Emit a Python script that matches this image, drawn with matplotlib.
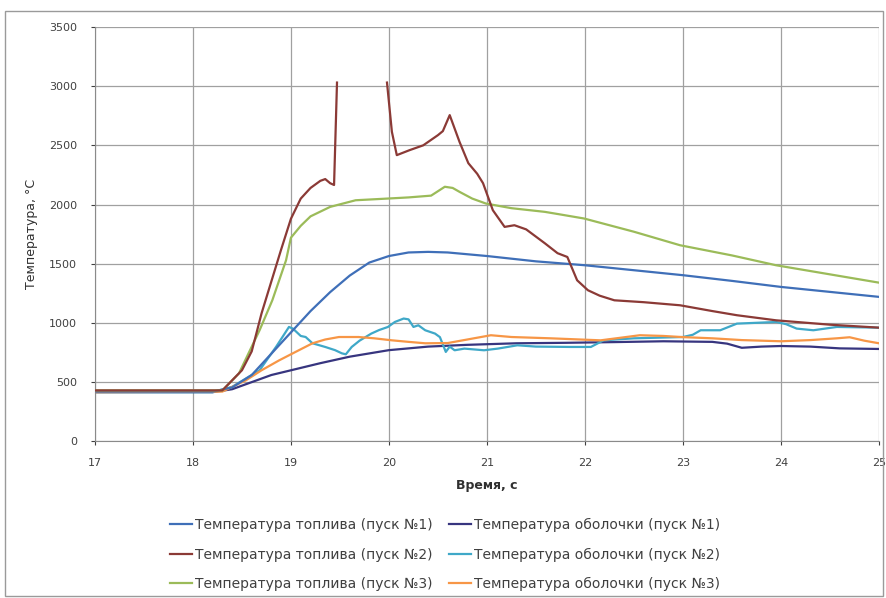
import numpy as np
import matplotlib
matplotlib.use('Agg')
from matplotlib import pyplot as plt
from matplotlib.patches import Rectangle

nan = np.nan

# температура топлива, пуск 1
t_fuel1 = [17, 18.2, 18.4, 18.6, 18.8, 19.0, 19.2, 19.4, 19.6, 19.8, 20.0, 20.2, 20.4,
           20.6, 20.8, 21.0, 21.5, 22.0, 22.5, 23.0, 23.5, 24.0, 24.5, 25.0]
fuel1 = [420, 420, 455, 560, 740, 920, 1100, 1260, 1400, 1510, 1565, 1595, 1600,
         1595, 1580, 1565, 1520, 1487, 1445, 1403, 1355, 1304, 1262, 1220]

# температура оболочки, пуск 1
t_clad1 = [17, 18.2, 18.4, 18.6, 18.8, 19.0, 19.3, 19.6, 20.0, 20.4, 20.8, 21.3, 21.8,
           22.3, 22.8, 23.3, 23.45, 23.6, 23.8, 24.0, 24.3, 24.6, 25.0]
clad1 = [415, 415, 440, 500, 560, 600, 660, 715, 770, 800, 815, 828, 832,
         838, 845, 840, 825, 790, 800, 805, 800, 785, 780]

# температура топлива, пуск 2 (разрыв в данных 19.5-20 с)
t_fuel2 = [17, 18.3, 18.4, 18.5, 18.6, 18.7, 18.8, 18.9, 19.0, 19.1, 19.2, 19.3, 19.35,
           19.4, 19.44, 19.47, 19.48, 19.98, 20.03, 20.08, 20.21, 20.35, 20.5, 20.55,
           20.62, 20.72, 20.81, 20.9, 20.96, 21.06, 21.18, 21.28, 21.4, 21.59, 21.72,
           21.82, 21.92, 22.03, 22.15, 22.3, 22.6, 22.97, 23.3, 23.55, 23.95, 24.5, 25.0]
fuel2 = [430, 430, 515, 600, 760, 1080, 1350, 1620, 1880, 2050, 2140, 2200, 2215,
         2180, 2165, 3030, nan, 3030, 2614, 2417, 2459, 2500, 2586, 2620,
         2755, 2529, 2349, 2260, 2180, 1952, 1811, 1825, 1790, 1673, 1589,
         1557, 1360, 1276, 1230, 1191, 1175, 1149, 1100, 1065, 1022, 985, 960]

# температура оболочки, пуск 2
t_clad2 = [17, 18.2, 18.4, 18.68, 18.85, 18.98, 19.02, 19.1, 19.15, 19.22, 19.35, 19.45,
           19.52, 19.56, 19.62, 19.7, 19.82, 19.9, 19.99, 20.06, 20.15, 20.2, 20.25,
           20.3, 20.37, 20.47, 20.52, 20.58, 20.62, 20.67, 20.77, 20.97, 21.11, 21.31,
           21.5, 21.85, 22.06, 22.19, 22.5, 23.0, 23.1, 23.18, 23.38, 23.55, 23.95,
           24.05, 24.16, 24.33, 24.57, 25.0]
clad2 = [415, 415, 460, 600, 800, 966, 952, 890, 881, 828, 797, 770,
         743, 735, 797, 850, 910, 940, 966, 1008, 1037, 1030, 966,
         980, 938, 910, 880, 755, 800, 769, 783, 769, 783, 811,
         800, 797, 797, 853, 870, 881, 900, 938, 938, 994, 1008,
         990, 952, 938, 966, 960]

# температура топлива, пуск 3
t_fuel3 = [17, 18.3, 18.47, 18.6, 18.68, 18.81, 18.95, 19.0, 19.1, 19.2, 19.4, 19.66,
           19.98, 20.2, 20.43, 20.57, 20.65, 20.72, 20.85, 20.99, 21.25, 21.59, 21.72,
           21.99, 22.5, 22.97, 23.5, 23.95, 24.5, 25.0]
fuel3 = [430, 430, 574, 800, 938, 1191, 1529, 1720, 1820, 1900, 1980, 2036,
         2050, 2060, 2075, 2150, 2140, 2107, 2050, 2008, 1969, 1938, 1920,
         1882, 1770, 1656, 1570, 1487, 1410, 1340]

# температура оболочки, пуск 3
t_clad3 = [17, 18.3, 18.54, 18.7, 18.88, 19.08, 19.22, 19.35, 19.49, 19.69, 19.85, 20.03,
           20.2, 20.37, 20.6, 20.8, 21.04, 21.25, 21.65, 22.16, 22.56, 22.8, 23.0, 23.3,
           23.6, 24.0, 24.3, 24.57, 24.7, 24.85, 25.0]
clad3 = [415, 420, 515, 600, 684, 769, 828, 860, 881, 881, 870, 853,
         840, 828, 830, 860, 896, 881, 870, 853, 896, 890, 880, 870,
         855, 845, 855, 870, 879, 850, 828]

labels = ['Температура топлива (пуск №1)', 'Температура оболочки (пуск №1)',
          'Температура топлива (пуск №2)', 'Температура оболочки (пуск №2)',
          'Температура топлива (пуск №3)', 'Температура оболочки (пуск №3)']
colors = ['#3F6FB8', '#37357F', '#8B3A36', '#3FA8C8', '#9BBB59', '#F79646']
data = [(t_fuel1, fuel1), (t_clad1, clad1), (t_fuel2, fuel2),
        (t_clad2, clad2), (t_fuel3, fuel3), (t_clad3, clad3)]

plt.rcParams['font.family'] = ['DejaVu Sans']
fig = plt.figure(figsize=(8.87, 5.98), dpi=100)
ax = fig.add_axes([0.107, 0.262, 0.884, 0.693])

# оболочки снизу, топливо поверх
lines = {}
for i in [1, 3, 5, 0, 4, 2]:
    t, v = data[i]
    lines[i], = ax.plot(t, v, color=colors[i], lw=1.6, label=labels[i],
                        zorder=3 + (i % 2 == 0))

ax.set_xlim(17, 25)
ax.set_ylim(0, 3500)
ax.set_xticks(range(17, 26))
ax.set_yticks(range(0, 3501, 500))
ax.grid(True, color='#A0A0A0', lw=0.9)
ax.tick_params(labelsize=8, colors='#404040', length=3, direction='out')
ax.tick_params(axis='x', pad=9)
ax.tick_params(axis='y', pad=10)
for s in ['top', 'right']:
    ax.spines[s].set_visible(False)
for s in ['left', 'bottom']:
    ax.spines[s].set_color('#8A8A8A')
ax.set_xlabel('Время, с', fontsize=9, fontweight='bold', color='#303030', labelpad=8)
ax.set_ylabel('Температура, °C', fontsize=9, color='#303030', labelpad=8)

# легенда по строкам: топливо слева, оболочка справа
order = [0, 2, 4, 1, 3, 5]
fig.legend([lines[k] for k in order], [labels[k] for k in order],
           loc='upper left', bbox_to_anchor=(163 / 887, 0.145), ncol=2, frameon=False,
           fontsize=10, handlelength=1.6, handletextpad=0.2, columnspacing=1.2,
           labelspacing=1.1, borderpad=0, labelcolor='#404040')

fig.patches.append(Rectangle((0.006, 0.004), 0.99, 0.978, transform=fig.transFigure,
                             fill=False, edgecolor='#9A9A9A', lw=1.0))

plt.savefig('out.png', dpi=100)
